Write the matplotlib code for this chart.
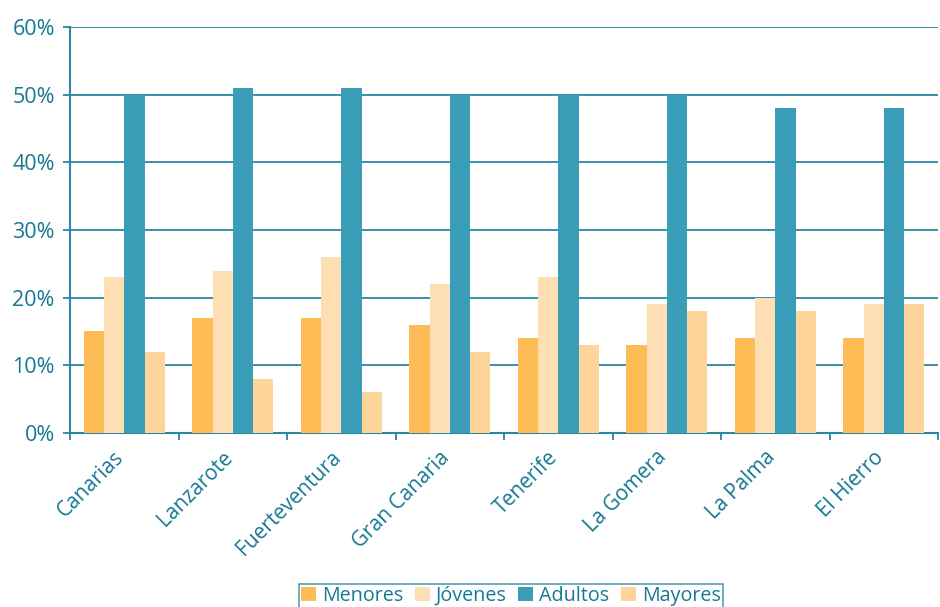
import numpy as np
import matplotlib.pyplot as plt
from matplotlib.ticker import FuncFormatter

plt.rcParams['font.family'] = ['Open Sans', 'DejaVu Sans']

# datos
islas = ['Canarias', 'Lanzarote', 'Fuerteventura', 'Gran Canaria',
         'Tenerife', 'La Gomera', 'La Palma', 'El Hierro']
menores = [15, 17, 17, 16, 14, 13, 14, 14]
jovenes = [23, 24, 26, 22, 23, 19, 20, 19]
adultos = [50, 51, 51, 50, 50, 50, 48, 48]
mayores = [12, 8, 6, 12, 13, 18, 18, 19]

series = [('Menores', menores, '#FDBC55'),
          ('Jóvenes', jovenes, '#FDDFB3'),
          ('Adultos', adultos, '#3A9EB8'),
          ('Mayores', mayores, '#FDD49A')]

txt = '#167893'
line = '#2A86A2'

fig = plt.figure(figsize=(9.4, 6.07), dpi=100)
ax = fig.add_axes([0.0745, 0.2867, 0.9235, 0.669])

x = np.arange(len(islas))
w = 0.187
for i, (nombre, vals, col) in enumerate(series):
    ax.bar(x + (i - 1.5) * w, vals, w, color=col, label=nombre, zorder=3)

ax.set_xlim(-0.5, len(islas) - 0.5)
ax.set_ylim(0, 60)
ax.set_yticks(range(0, 61, 10))
ax.yaxis.set_major_formatter(FuncFormatter(lambda v, p: f'{v:.0f}%'))
ax.grid(axis='y', color=line, lw=1.3, zorder=0)

ax.set_xticks(np.arange(len(islas) + 1) - 0.5)
ax.set_xticklabels([])
ax.set_xticks(x - 0.1, minor=True)
ax.set_xticklabels(islas, minor=True, rotation=45, ha='right', va='top',
                   rotation_mode='anchor', fontsize=15, color=txt)
ax.tick_params(axis='x', which='minor', length=0, pad=10)
ax.tick_params(axis='x', which='major', length=5, width=1.3, color=line)
ax.tick_params(axis='y', length=5, width=1.3, color=line, labelsize=15.5,
               labelcolor=txt, pad=6)

for s in ['top', 'right']:
    ax.spines[s].set_visible(False)
for s in ['left', 'bottom']:
    ax.spines[s].set_color(line)
    ax.spines[s].set_linewidth(1.5)

leg = fig.legend(loc='center', bbox_to_anchor=(0.5435, 0.018), ncol=4,
                 fontsize=14.2, frameon=True, fancybox=False, borderpad=0.1,
                 handlelength=0.75, handleheight=0.75, handletextpad=0.3,
                 columnspacing=0.6, borderaxespad=0)
leg.get_frame().set_edgecolor(line)
leg.get_frame().set_linewidth(1.2)
for t in leg.get_texts():
    t.set_color(txt)

fig.savefig('out.png', dpi=100)
